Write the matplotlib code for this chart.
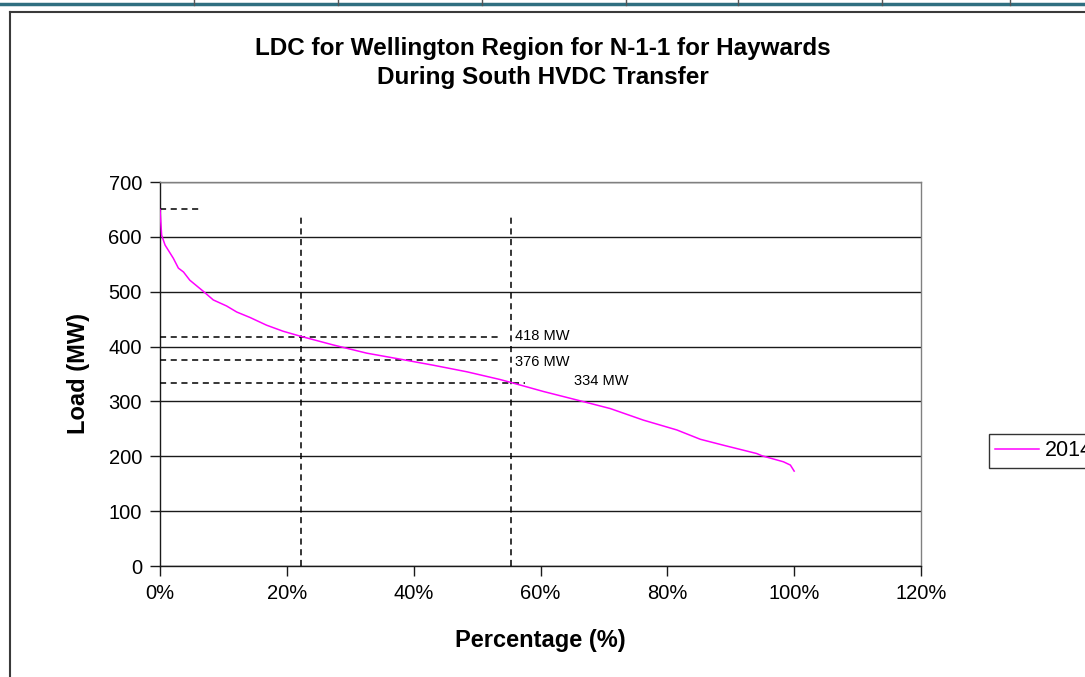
import matplotlib
matplotlib.use("Agg")
import matplotlib.pyplot as plt
from matplotlib.lines import Line2D
from matplotlib.ticker import FuncFormatter, MultipleLocator

plt.rcParams['font.family'] = ['Liberation Sans', 'DejaVu Sans']

# Load duration curve, 2014 (percentage of time vs load in MW)
pct = [0, 0.26, 0.8, 2.1, 2.9, 3.7, 4.7, 6.8, 8.4, 10.5, 12.1, 14.2, 16.8,
       19.4, 22.1, 27.3, 32.6, 37.9, 43.1, 48.4, 53.6, 55.2, 60.5, 66.3, 71,
       76.2, 81.5, 85.2, 88.9, 94.1, 94.9, 98.3, 99.4, 100]
load = [650, 603, 585, 561, 543, 536, 521, 501, 485, 474, 463, 453, 439,
        428, 419, 403, 388, 377, 366, 354, 340, 335, 318, 301, 287,
        266, 248, 231, 220, 205, 201, 190, 184, 173]
series_name = "2014"

# Reference markers
peak_load = 650
peak_span = 6.5
limit_pct = [22.2, 55.4]
limit_top = 640
limit_loads = [418, 376, 334]
limit_spans = [53.6, 53.6, 57.6]
limit_labels = ["418 MW", "376 MW", "334 MW"]
label_pos = [(56.0, 420), (56.0, 372), (65.3, 338)]

W, H = 1085, 677
fig = plt.figure(figsize=(W / 100, H / 100), dpi=100)
fig.patch.set_facecolor("white")

def fx(px):
    return px / W

def fy(py):
    return 1 - py / H

# Worksheet decorations: cell border along the top and the chart frame
fig.add_artist(Line2D([0, 1], [fy(4), fy(4)], color="#2f6f80", lw=2.5))
for sx in [194, 338, 482, 626, 738, 882, 1010]:
    fig.add_artist(Line2D([fx(sx), fx(sx)], [fy(0), fy(5)], color="#555555", lw=1))
fig.add_artist(Line2D([fx(10), fx(10)], [fy(12), 0], color="#3a3a3a", lw=1.5))
fig.add_artist(Line2D([fx(10), 1], [fy(12), fy(12)], color="#3a3a3a", lw=1.5))

ax = fig.add_axes([fx(160), fy(566), fx(921) - fx(160), fy(182) - fy(566)])
ax.set_xlim(0, 120)
ax.set_ylim(0, 700)
ax.xaxis.set_major_locator(MultipleLocator(20))
ax.yaxis.set_major_locator(MultipleLocator(100))
ax.xaxis.set_major_formatter(FuncFormatter(lambda v, p: f"{v:.0f}%"))
ax.grid(axis="y", color="#1a1a1a", lw=1)
ax.set_axisbelow(True)
for side in ["top", "right"]:
    ax.spines[side].set_color("#808080")
    ax.spines[side].set_linewidth(1)
for side in ["left", "bottom"]:
    ax.spines[side].set_color("#1a1a1a")
    ax.spines[side].set_linewidth(1)
ax.tick_params(direction="out", length=7, width=1, color="#1a1a1a",
               labelsize=14.5, pad=6)

ax.plot(pct, load, color="#ff00ff", lw=1.1, label=series_name, zorder=4)

dash = dict(color="black", lw=1.1, ls=(0, (4, 3)), zorder=3)
ax.plot([0, peak_span], [peak_load, peak_load], **dash)
for xp in limit_pct:
    ax.plot([xp, xp], [0, limit_top], clip_on=False, **dash)
for yl, span in zip(limit_loads, limit_spans):
    ax.plot([0, span], [yl, yl], **dash)
for txt, (tx, ty) in zip(limit_labels, label_pos):
    ax.text(tx, ty, txt, fontsize=10.5, ha="left", va="center", zorder=5)

ax.set_xlabel("Percentage (%)", fontsize=17, fontweight="bold", labelpad=19)
ax.set_ylabel("Load (MW)", fontsize=17, fontweight="bold", labelpad=13)

fig.text(fx(543), fy(63), "LDC for Wellington Region for N-1-1 for Haywards\nDuring South HVDC Transfer",
         ha="center", va="center", fontsize=17.5, fontweight="bold", linespacing=1.33)

leg = ax.legend(loc="center left", bbox_to_anchor=(fx(989), fy(451)),
                bbox_transform=fig.transFigure, borderaxespad=0, fontsize=15.5,
                frameon=True, fancybox=False, handlelength=2.0,
                handletextpad=0.3, borderpad=0.3)
leg.get_frame().set_edgecolor("black")
leg.get_frame().set_linewidth(1)

fig.savefig("out.png", dpi=100)
